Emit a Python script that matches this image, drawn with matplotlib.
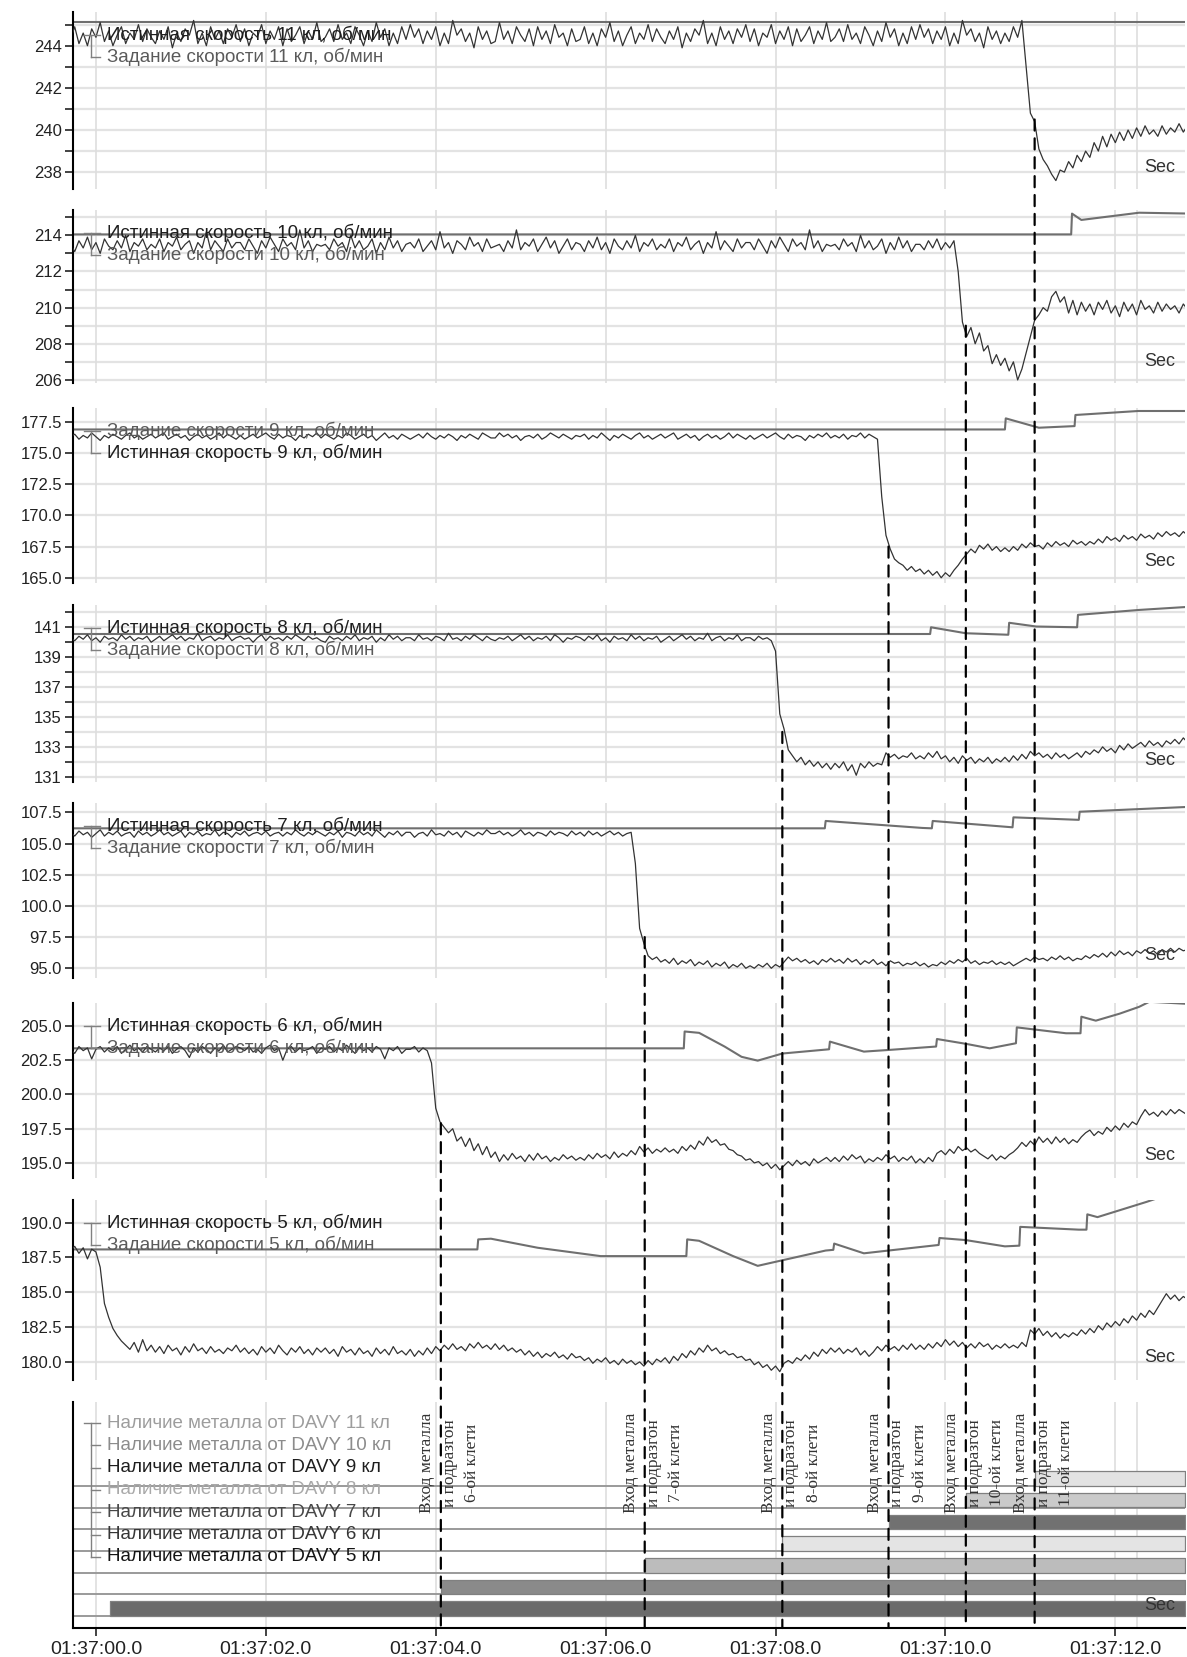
import numpy as np
import matplotlib.pyplot as plt
from matplotlib.patches import ConnectionPatch
from matplotlib.ticker import FormatStrFormatter

plt.rcParams['font.family'] = ['Liberation Sans', 'DejaVu Sans']

# sampling of the speed curves (seconds after 01:37:00.0), one row = 1 s
T0 = -0.3
DT = 0.05

# ---------------- stand 11 ----------------
speed_11 = [
    244.3, 244.9, 244.1, 244.6, 244.0, 244.8, 244.4, 245.1, 244.2, 244.7, 244.0, 244.5, 244.9, 244.1, 244.6, 244.3, 245.0, 244.2, 244.8, 244.4,
    244.1, 244.7, 244.3, 244.9, 243.9, 244.6, 244.2, 244.8, 244.5, 245.2, 244.1, 244.6, 244.0, 244.9, 244.3, 244.7, 244.1, 244.8, 244.4, 245.0,
    244.2, 244.8, 244.0, 244.6, 244.4, 245.0, 244.1, 244.7, 244.3, 244.9, 244.0, 244.8, 244.2, 244.5, 244.9, 244.1, 244.7, 244.3, 245.1, 244.2,
    244.4, 244.8, 244.2, 245.0, 244.3, 244.6, 244.1, 244.9, 244.5, 244.0, 244.7, 244.2, 245.1, 244.4, 244.8, 244.0, 244.6, 244.1, 244.9, 244.3,
    245.0, 244.4, 244.8, 244.1, 244.7, 244.3, 244.9, 244.0, 244.6, 244.1, 245.2, 244.5, 244.8, 244.2, 244.6, 243.9, 244.9, 244.3, 244.7, 244.1,
    244.2, 245.1, 244.3, 244.7, 244.1, 244.9, 244.5, 244.2, 244.8, 244.0, 244.9, 244.3, 244.7, 244.1, 245.0, 244.4, 244.6, 244.0, 244.8, 244.2,
    244.3, 244.9, 244.1, 244.6, 244.0, 244.8, 244.4, 245.1, 244.2, 244.7, 244.0, 244.5, 244.9, 244.1, 244.6, 244.3, 245.0, 244.2, 244.8, 244.4,
    244.1, 244.7, 244.3, 244.9, 243.9, 244.6, 244.2, 244.8, 244.5, 245.2, 244.1, 244.6, 244.0, 244.9, 244.3, 244.7, 244.1, 244.8, 244.4, 245.0,
    244.2, 244.8, 244.0, 244.6, 244.4, 245.0, 244.1, 244.7, 244.3, 244.9, 244.0, 244.8, 244.2, 244.5, 244.9, 244.1, 244.7, 244.3, 245.1, 244.2,
    244.4, 244.8, 244.2, 245.0, 244.3, 244.6, 244.1, 244.9, 244.5, 244.0, 244.7, 244.2, 245.1, 244.4, 244.8, 244.0, 244.6, 244.1, 244.9, 244.3,
    245.0, 244.4, 244.8, 244.1, 244.7, 244.3, 244.9, 244.0, 244.6, 244.1, 245.2, 244.5, 244.8, 244.2, 244.6, 243.9, 244.9, 244.3, 244.7, 244.1,
    244.6, 244.2, 244.9, 244.4, 245.2, 243.0, 240.8, 240.4, 239.1, 238.6, 238.3, 237.9, 237.6, 238.1, 238.0, 238.5, 238.2, 238.8, 238.5, 239.0,
    238.7, 239.4, 239.0, 239.7, 239.2, 239.8, 239.4, 239.9, 239.5, 240.0, 239.6, 240.1, 239.7, 240.2, 239.8, 240.0, 239.7, 240.2, 239.8, 240.1,
    239.9, 240.3, 239.9, 240.2, 240.0,
]
set_11_t = [-0.3, 12.9]
set_11_v = [245.13, 245.13]

# ---------------- stand 10 ----------------
speed_10 = [
    213.5, 213.1, 213.7, 213.3, 213.9, 213.2, 213.6, 213.0, 213.8, 213.4, 213.2, 213.7, 213.3, 214.0, 213.1, 213.6, 213.4, 213.8, 213.2, 213.5,
    213.3, 213.8, 213.1, 213.6, 213.4, 213.9, 213.2, 213.5, 213.7, 213.0, 213.6, 213.3, 214.2, 213.2, 213.7, 213.4, 213.1, 213.8, 213.3, 213.6,
    213.6, 213.2, 213.8, 213.4, 213.0, 213.7, 213.3, 213.9, 213.5, 213.1, 213.8, 213.4, 213.6, 213.2, 214.3, 213.3, 213.7, 213.1, 213.5, 213.4,
    213.5, 213.2, 213.8, 213.4, 213.6, 213.1, 214.0, 213.3, 213.7, 213.2, 213.4, 213.8, 213.0, 213.6, 213.2, 213.9, 213.3, 213.7, 213.1, 213.5,
    213.6, 213.3, 213.8, 213.1, 213.4, 213.7, 213.2, 214.2, 213.3, 213.6, 213.0, 213.7, 213.5, 213.2, 213.9, 213.4, 213.6, 213.1, 213.8, 213.3,
    213.4, 213.5, 213.1, 213.7, 213.3, 214.3, 213.2, 213.6, 213.4, 213.8, 213.1, 213.5, 213.9, 213.3, 213.7, 213.0, 213.4, 213.8, 213.2, 213.6,
    213.5, 213.1, 213.7, 213.3, 213.9, 213.2, 213.6, 213.0, 213.8, 213.4, 213.2, 213.7, 213.3, 214.0, 213.1, 213.6, 213.4, 213.8, 213.2, 213.5,
    213.3, 213.8, 213.1, 213.6, 213.4, 213.9, 213.2, 213.5, 213.7, 213.0, 213.6, 213.3, 214.2, 213.2, 213.7, 213.4, 213.1, 213.8, 213.3, 213.6,
    213.6, 213.2, 213.8, 213.4, 213.0, 213.7, 213.3, 213.9, 213.5, 213.1, 213.8, 213.4, 213.6, 213.2, 214.3, 213.3, 213.7, 213.1, 213.5, 213.4,
    213.5, 213.2, 213.8, 213.4, 213.6, 213.1, 214.0, 213.3, 213.7, 213.2, 213.4, 213.8, 213.0, 213.6, 213.2, 213.9, 213.3, 213.7, 213.1, 213.5,
    213.5, 213.2, 213.7, 213.3, 213.8, 213.2, 213.6, 213.3, 213.7, 212.0, 209.2, 208.4, 208.9, 208.0, 208.6, 207.6, 207.9, 206.9, 207.4, 206.8,
    207.2, 206.5, 207.0, 206.0, 206.6, 207.5, 208.4, 209.3, 209.6, 210.0, 209.8, 210.6, 210.9, 210.3, 210.6, 209.7, 210.4, 209.6, 210.3, 209.8,
    210.2, 209.6, 210.3, 209.9, 210.4, 209.7, 210.1, 209.5, 210.3, 209.8, 210.2, 209.6, 210.4, 209.9, 210.1, 209.7, 210.3, 209.8, 210.2, 209.9,
    210.1, 209.7, 210.2, 209.9, 210.0,
]
set_10_t = [-0.3, 11.48, 11.49, 11.6, 12.28, 12.9]
set_10_v = [214.05, 214.05, 215.2, 214.85, 215.25, 215.2]

# ---------------- stand 9 ----------------
speed_9 = [
    176.3, 176.5, 176.1, 176.4, 176.2, 176.6, 176.3, 176.0, 176.4, 176.2, 176.5, 176.3, 176.1, 176.4, 176.6, 176.2, 176.4, 176.1, 176.3, 176.5,
    176.2, 176.4, 176.6, 176.1, 176.3, 176.5, 176.2, 176.4, 176.0, 176.3, 176.5, 176.2, 176.4, 176.1, 176.3, 176.6, 176.2, 176.5, 176.3, 176.1,
    176.4, 176.1, 176.3, 176.5, 176.2, 176.4, 176.6, 176.3, 176.1, 176.5, 176.2, 176.4, 176.3, 176.0, 176.4, 176.2, 176.5, 176.3, 176.6, 176.2,
    176.5, 176.3, 176.1, 176.4, 176.2, 176.6, 176.4, 176.1, 176.3, 176.5, 176.2, 176.4, 176.0, 176.3, 176.6, 176.2, 176.4, 176.1, 176.5, 176.3,
    176.1, 176.3, 176.5, 176.2, 176.6, 176.3, 176.1, 176.4, 176.2, 176.5, 176.3, 176.0, 176.4, 176.2, 176.5, 176.3, 176.1, 176.6, 176.4, 176.2,
    176.2, 176.6, 176.3, 176.5, 176.2, 176.4, 176.0, 176.3, 176.4, 176.2, 176.5, 176.1, 176.3, 176.6, 176.4, 176.2, 176.5, 176.3, 176.1, 176.4,
    176.3, 176.5, 176.1, 176.4, 176.2, 176.6, 176.3, 176.0, 176.4, 176.2, 176.5, 176.3, 176.1, 176.4, 176.6, 176.2, 176.4, 176.1, 176.3, 176.5,
    176.2, 176.4, 176.6, 176.1, 176.3, 176.5, 176.2, 176.4, 176.0, 176.3, 176.5, 176.2, 176.4, 176.1, 176.3, 176.6, 176.2, 176.5, 176.3, 176.1,
    176.4, 176.1, 176.3, 176.5, 176.2, 176.4, 176.6, 176.3, 176.1, 176.5, 176.2, 176.4, 176.3, 176.0, 176.4, 176.2, 176.5, 176.3, 176.6, 176.2,
    176.4, 176.2, 176.5, 176.1, 176.4, 176.3, 176.6, 176.2, 176.5, 176.3, 176.1, 171.5, 168.4, 167.3, 166.5, 166.2, 166.0, 165.6, 165.9, 165.5,
    165.7, 165.3, 165.6, 165.2, 165.5, 165.0, 165.4, 165.1, 165.6, 166.0, 166.5, 166.9, 167.3, 167.0, 167.6, 167.3, 167.7, 167.2, 167.5, 167.1,
    167.4, 167.1, 167.5, 167.2, 167.7, 167.4, 167.8, 167.5, 167.6, 167.3, 167.8, 167.5, 167.9, 167.6, 167.8, 167.5, 168.0, 167.7, 167.9, 167.6,
    167.9, 167.7, 168.1, 167.8, 168.3, 168.0, 168.2, 167.9, 168.4, 168.1, 168.3, 168.0, 168.5, 168.2, 168.4, 168.1, 168.6, 168.3, 168.7, 168.4,
    168.6, 168.3, 168.7, 168.4, 168.6,
]
set_9_t = [-0.3, 10.7, 10.71, 11.1, 11.52, 11.53, 12.27, 12.9]
set_9_v = [176.88, 176.88, 177.77, 177.02, 177.15, 178.04, 178.36, 178.36]

# ---------------- stand 8 ----------------
speed_8 = [
    140.3, 140.1, 140.4, 140.2, 140.5, 140.1, 140.3, 140.0, 140.4, 140.2, 140.3, 140.1, 140.5, 140.2, 140.4, 140.1, 140.3, 140.2, 140.4, 140.0,
    140.2, 140.4, 140.1, 140.3, 140.5, 140.2, 140.4, 140.1, 140.3, 140.2, 140.6, 140.1, 140.3, 140.4, 140.1, 140.3, 140.2, 140.5, 140.1, 140.3,
    140.4, 140.2, 140.3, 140.0, 140.3, 140.5, 140.1, 140.4, 140.2, 140.3, 140.1, 140.4, 140.2, 140.5, 140.3, 140.1, 140.4, 140.2, 140.3, 140.1,
    140.0, 140.4, 140.2, 140.3, 140.1, 140.4, 140.2, 140.5, 140.1, 140.3, 140.2, 140.4, 140.0, 140.3, 140.1, 140.5, 140.2, 140.4, 140.1, 140.3,
    140.3, 140.1, 140.5, 140.2, 140.3, 140.1, 140.4, 140.3, 140.1, 140.6, 140.2, 140.3, 140.1, 140.4, 140.2, 140.5, 140.3, 140.1, 140.4, 140.2,
    140.1, 140.3, 140.2, 140.4, 140.1, 140.3, 140.5, 140.2, 140.4, 140.1, 140.3, 140.2, 140.4, 140.1, 140.5, 140.3, 140.0, 140.3, 140.2, 140.4,
    140.3, 140.1, 140.4, 140.2, 140.5, 140.1, 140.3, 140.0, 140.4, 140.2, 140.3, 140.1, 140.5, 140.2, 140.4, 140.1, 140.3, 140.2, 140.4, 140.0,
    140.2, 140.4, 140.1, 140.3, 140.5, 140.2, 140.4, 140.1, 140.3, 140.2, 140.6, 140.1, 140.3, 140.4, 140.1, 140.3, 140.2, 140.5, 140.1, 140.3,
    140.3, 140.1, 140.4, 140.2, 140.3, 140.1, 139.4, 135.2, 134.2, 132.8, 132.4, 132.0, 132.3, 131.8, 132.1, 131.7, 132.0, 131.6, 131.9, 131.5,
    131.9, 131.6, 132.0, 131.4, 131.8, 131.1, 131.9, 131.6, 132.0, 131.7, 131.9, 131.8, 132.6, 132.3, 132.5, 132.2, 132.4, 132.3, 132.6, 132.2,
    132.4, 132.2, 132.6, 132.3, 132.7, 132.2, 132.4, 132.0, 132.3, 131.9, 132.4, 132.1, 132.3, 131.9, 132.2, 132.0, 132.3, 131.9, 132.2, 132.0,
    132.3, 132.0, 132.4, 132.1, 132.5, 132.2, 132.7, 132.4, 132.6, 132.3, 132.5, 132.2, 132.6, 132.3, 132.5, 132.2, 132.4, 132.6, 132.3, 132.7,
    132.5, 132.8, 132.6, 133.0, 132.7, 132.9, 132.6, 133.1, 132.8, 133.2, 132.9, 133.1, 133.3, 133.0, 133.4, 133.1, 133.3, 133.0, 133.4, 133.2,
    133.5, 133.2, 133.6, 133.3, 133.5,
]
set_8_t = [-0.3, 9.82, 9.83, 10.24, 10.74, 10.75, 11.07, 11.55, 11.56, 12.28, 12.9]
set_8_v = [140.55, 140.55, 141.0, 140.6, 140.5, 141.3, 141.05, 141.0, 141.83, 142.16, 142.38]

# ---------------- stand 7 ----------------
speed_7 = [
    105.9, 105.6, 106.0, 105.7, 105.9, 105.5, 105.8, 106.1, 105.6, 105.9, 105.7, 106.0, 105.6, 105.8, 105.9, 105.5, 106.0, 105.7, 105.9, 105.6,
    105.8, 106.1, 105.7, 105.9, 105.6, 105.8, 106.0, 105.5, 105.9, 105.7, 106.0, 105.6, 105.8, 105.7, 106.1, 105.6, 105.9, 105.8, 105.5, 105.9,
    105.7, 106.0, 105.6, 105.8, 105.9, 105.7, 106.0, 105.6, 105.8, 105.9, 105.6, 105.9, 105.7, 106.1, 105.8, 105.6, 105.9, 105.7, 106.0, 105.8,
    105.6, 105.9, 105.7, 106.0, 105.5, 105.9, 105.8, 105.6, 106.0, 105.7, 105.9, 105.6, 106.1, 105.8, 105.5, 105.9, 105.7, 106.0, 105.6, 105.9,
    105.9, 105.5, 105.8, 105.9, 105.6, 106.1, 105.7, 105.8, 105.6, 106.0, 105.7, 105.9, 105.5, 106.0, 105.8, 105.6, 105.9, 105.7, 106.1, 105.8,
    105.8, 106.0, 105.7, 105.9, 105.6, 105.8, 106.1, 105.7, 105.9, 105.6, 105.9, 105.8, 105.6, 106.0, 105.7, 105.9, 105.8, 105.6, 106.0, 105.7,
    105.9, 105.6, 106.0, 105.7, 105.9, 105.6, 105.8, 106.0, 105.7, 105.9, 105.6, 105.8, 105.9, 103.4, 98.2, 97.0, 96.0, 95.7, 95.9, 95.5,
    95.7, 95.4, 95.8, 95.3, 95.6, 95.4, 95.7, 95.2, 95.5, 95.3, 95.6, 95.1, 95.4, 95.2, 95.5, 95.0, 95.3, 95.1, 95.4, 95.0,
    95.2, 95.0, 95.3, 95.1, 95.4, 95.0, 95.3, 95.1, 95.5, 95.9, 95.6, 95.8, 95.5, 95.7, 95.4, 95.6, 95.3, 95.7, 95.5, 95.8,
    95.5, 95.7, 95.4, 95.8, 95.5, 95.7, 95.3, 95.6, 95.4, 95.7, 95.3, 95.5, 95.2, 95.6, 95.4, 95.5, 95.2, 95.4, 95.3, 95.5,
    95.2, 95.4, 95.1, 95.3, 95.2, 95.5, 95.3, 95.6, 95.4, 95.7, 95.5, 95.8, 95.4, 95.6, 95.3, 95.5, 95.4, 95.6, 95.3, 95.5,
    95.3, 95.5, 95.2, 95.4, 95.6, 95.8, 95.6, 95.9, 95.7, 95.8, 95.6, 95.9, 95.7, 96.0, 95.7, 95.9, 95.6, 95.8, 95.7, 96.0,
    95.8, 96.1, 95.9, 96.2, 95.9, 96.3, 96.0, 96.4, 96.1, 96.3, 96.0, 96.4, 96.2, 96.5, 96.2, 96.4, 96.1, 96.5, 96.3, 96.6,
    96.3, 96.6, 96.4, 96.5, 96.3,
]
set_7_t = [-0.3, 8.58, 8.59, 9.73, 9.84, 9.85, 10.7, 10.79, 10.8, 11.57, 11.58, 12.9]
set_7_v = [106.22, 106.22, 106.81, 106.25, 106.22, 106.81, 106.35, 106.3, 107.1, 106.9, 107.55, 107.95]

# ---------------- stand 6 ----------------
speed_6 = [
    203.3, 203.0, 203.5, 203.2, 203.4, 202.6, 203.3, 203.5, 203.1, 203.4, 203.2, 203.5, 203.0, 203.3, 203.6, 203.2, 203.4, 203.1, 203.5, 203.3,
    203.1, 203.4, 203.2, 203.5, 203.0, 203.3, 203.5, 203.2, 202.7, 203.4, 203.1, 203.5, 203.3, 203.0, 203.4, 203.2, 203.6, 203.1, 203.3, 203.5,
    203.4, 203.2, 203.5, 203.1, 203.3, 203.0, 203.4, 203.6, 203.2, 203.4, 202.5, 203.3, 203.5, 203.1, 203.4, 203.2, 203.3, 203.5, 203.0, 203.4,
    203.3, 203.5, 203.1, 203.4, 203.2, 203.6, 203.3, 203.0, 203.5, 203.2, 203.4, 203.1, 203.5, 203.3, 202.6, 203.4, 203.2, 203.5, 203.0, 203.3,
    203.3, 203.5, 203.1, 203.4, 203.2, 202.3, 199.0, 198.0, 197.6, 197.2, 197.5, 196.6, 196.9, 196.2, 196.8, 195.9, 196.4, 195.6, 196.2, 195.4,
    195.8, 195.1, 195.6, 195.2, 195.7, 195.3, 195.5, 195.1, 195.6, 195.2, 195.7, 195.3, 195.5, 195.1, 195.4, 195.2, 195.6, 195.3, 195.5, 195.2,
    195.4, 195.2, 195.6, 195.3, 195.7, 195.4, 195.6, 195.3, 195.8, 195.4, 195.7, 195.5, 195.9, 195.6, 196.2, 195.8, 196.1, 195.7, 196.0, 195.8,
    196.1, 195.8, 196.0, 195.7, 196.2, 195.9, 196.3, 196.0, 196.6, 196.3, 196.9, 196.5, 196.7, 196.3, 196.4, 196.0, 195.9, 195.6, 195.5, 195.2,
    195.3, 195.0, 195.1, 194.8, 195.0, 194.6, 194.9, 194.5, 194.8, 195.1, 194.8, 195.2, 194.9, 195.1, 194.8, 195.3, 195.0, 195.2, 195.4, 195.1,
    195.4, 195.1, 195.5, 195.2, 195.6, 195.3, 195.5, 195.0, 195.3, 195.1, 195.4, 195.2, 195.6, 195.3, 195.5, 195.1, 195.4, 195.2, 195.5, 195.0,
    195.3, 195.0, 195.4, 195.1, 195.7, 195.9, 195.6, 196.0, 195.7, 196.2, 195.9, 196.1, 195.8, 196.0, 195.7, 195.5, 195.3, 195.6, 195.2, 195.5,
    195.3, 195.6, 195.8, 196.1, 196.5, 196.2, 196.6, 196.3, 196.9, 196.5, 196.8, 196.4, 196.9, 196.5, 196.8, 196.4, 196.7, 196.5, 196.9, 197.2,
    197.4, 197.0, 197.3, 197.1, 197.6, 197.3, 197.7, 197.4, 197.9, 197.6, 198.0, 197.8, 198.4, 198.9, 198.5, 198.7, 198.4, 198.8, 198.5, 198.9,
    198.6, 198.9, 198.7, 198.5, 198.8,
]
set_6_t = [-0.3, 6.92, 6.93, 7.1, 7.4, 7.6, 7.79, 8.08, 8.63, 8.64, 9.04, 9.33, 9.89, 9.9,
           10.24, 10.52, 10.83, 10.84, 11.42, 11.59, 11.6, 11.77, 12.05, 12.28, 12.4, 12.9]
set_6_v = [203.37, 203.37, 204.6, 204.5, 203.5, 202.75, 202.47, 202.99, 203.3, 203.86, 203.13, 203.25, 203.5, 204.05,
           203.7, 203.37, 203.74, 204.9, 204.47, 204.47, 205.68, 205.39, 205.9, 206.4, 206.77, 206.6]

# ---------------- stand 5 ----------------
speed_5 = [
    188.0, 188.3, 187.8, 188.2, 187.4, 188.1, 187.9, 186.8, 184.2, 183.2, 182.4, 181.9, 181.5, 181.2, 180.9, 181.4, 180.7, 181.6, 180.8, 181.2,
    180.7, 181.1, 180.6, 181.2, 180.8, 181.0, 180.5, 181.1, 180.7, 181.3, 180.8, 181.0, 180.6, 181.1, 180.7, 180.9, 180.6, 181.0, 180.8, 181.2,
    180.7, 181.0, 180.6, 180.9, 180.5, 181.1, 180.7, 181.0, 180.6, 181.2, 180.8, 180.5, 181.0, 180.7, 181.1, 180.6, 180.9, 180.5, 181.0, 180.7,
    181.0, 180.6, 180.9, 180.4, 181.1, 180.7, 180.9, 180.5, 181.0, 180.6, 180.8, 180.4, 181.0, 180.6, 180.9, 180.5, 181.1, 180.6, 180.8, 180.5,
    180.9, 180.4, 180.8, 180.5, 181.0, 180.6, 181.1, 180.8, 181.2, 180.9, 181.3, 180.9, 181.1, 180.8, 181.3, 181.0, 181.4, 181.0, 181.2, 180.9,
    181.3, 180.9, 181.2, 180.8, 181.0, 180.7, 180.9, 180.5, 180.8, 180.4, 180.7, 180.3, 180.6, 180.4, 180.7, 180.3, 180.5, 180.2, 180.6, 180.3,
    180.4, 180.1, 180.3, 179.9, 180.2, 180.0, 180.3, 179.9, 180.1, 179.8, 180.2, 179.9, 180.1, 179.8, 180.0, 179.7, 180.1, 179.8, 180.2, 180.0,
    180.3, 179.9, 180.4, 180.1, 180.6, 180.3, 180.8, 180.5, 181.0, 180.7, 181.2, 180.8, 181.0, 180.6, 180.8, 180.5, 180.6, 180.3, 180.4, 180.1,
    180.2, 179.8, 180.0, 179.6, 179.8, 179.4, 179.7, 179.3, 179.9, 180.1, 179.9, 180.3, 180.1, 180.5, 180.2, 180.7, 180.4, 180.9, 180.6, 181.0,
    180.7, 181.0, 180.6, 180.9, 180.7, 181.0, 180.5, 180.8, 180.4, 180.7, 181.1, 180.8, 181.2, 180.9, 181.1, 180.8, 181.2, 180.9, 181.3, 180.9,
    181.2, 180.9, 181.3, 181.0, 181.4, 181.1, 181.6, 181.2, 181.5, 181.1, 181.4, 181.0, 181.3, 181.0, 181.4, 181.1, 181.3, 180.9, 181.2, 181.0,
    181.3, 181.0, 181.2, 181.0, 181.4, 181.1, 182.3, 182.0, 182.4, 181.9, 182.2, 181.8, 182.1, 181.7, 182.0, 181.8, 182.1, 181.9, 182.3, 182.0,
    182.4, 182.1, 182.6, 182.3, 182.8, 182.5, 182.9, 182.6, 183.1, 182.8, 183.3, 183.0, 183.5, 183.2, 183.7, 183.4, 183.9, 184.4, 184.9, 184.5,
    184.8, 184.4, 184.7, 184.5, 184.6,
]
set_5_t = [-0.3, 4.49, 4.5, 4.65, 5.2, 5.94, 6.95, 6.96, 7.1, 7.5, 7.79, 8.08, 8.59, 8.68, 8.69,
           9.04, 9.33, 9.92, 9.93, 10.24, 10.7, 10.87, 10.88, 11.57, 11.66, 11.67, 11.79, 12.37, 12.9]
set_5_v = [188.08, 188.08, 188.8, 188.85, 188.2, 187.6, 187.6, 188.8, 188.7, 187.6, 186.9, 187.3, 188.0, 188.05, 188.5,
           187.8, 188.0, 188.4, 188.9, 188.75, 188.3, 188.35, 189.7, 189.5, 189.5, 190.6, 190.4, 191.5, 192.6]

# legends of the speed panels, top to bottom
legend_11 = ['Истинная скорость 11 кл, об/мин', 'Задание скорости 11 кл, об/мин']
legend_10 = ['Истинная скорость 10 кл, об/мин', 'Задание скорости 10 кл, об/мин']
legend_9 = ['Задание скорости 9 кл, об/мин', 'Истинная скорость 9 кл, об/мин']
legend_8 = ['Истинная скорость 8 кл, об/мин', 'Задание скорости 8 кл, об/мин']
legend_7 = ['Истинная скорость 7 кл, об/мин', 'Задание скорости 7 кл, об/мин']
legend_6 = ['Истинная скорость 6 кл, об/мин', 'Задание скорости 6 кл, об/мин']
legend_5 = ['Истинная скорость 5 кл, об/мин', 'Задание скорости 5 кл, об/мин']

# metal presence (DAVY) signals: stands 5..11 and the moment metal appears
metal_stands = ['5', '6', '7', '8', '9', '10', '11']
metal_on = [0.17, 4.06, 6.46, 8.08, 9.33, 10.24, 11.05]
metal_fill = ['#6b6b6b', '#8a8a8a', '#bcbcbc', '#e4e4e4', '#717171', '#cacaca', '#e2e2e2']
metal_text = ['#141414', '#363636', '#484848', '#a9a9a9', '#1e1e1e', '#8c8c8c', '#9d9d9d']

# entry of metal into stands 6..11 (dashed markers) and speed value where marker starts
entry_stands = ['6', '7', '8', '9', '10', '11']
entry_times = [4.06, 6.46, 8.08, 9.33, 10.24, 11.05]
entry_speed = [197.9, 97.5, 134.0, 167.5, 209.0, 240.5]

xtick_pos = [0, 2, 4, 6, 8, 10, 12]
xtick_labels = ['01:37:00.0', '01:37:02.0', '01:37:04.0', '01:37:06.0',
                '01:37:08.0', '01:37:10.0', '01:37:12.0']
vgrid_times = [0, 2, 4, 6, 8, 10, 12, 12.26]
XLIM = (-0.27, 12.82)

panels = [
    dict(speed=speed_11, st=set_11_t, sv=set_11_v, legend=legend_11, ylim=(237.2, 245.6),
         major=[238, 240, 242, 244], minor=[239, 241, 243, 245], fmt='%d', px=(12, 189)),
    dict(speed=speed_10, st=set_10_t, sv=set_10_v, legend=legend_10, ylim=(205.83, 215.4),
         major=[206, 208, 210, 212, 214], minor=[207, 209, 211, 213, 215], fmt='%d', px=(210, 383)),
    dict(speed=speed_9, st=set_9_t, sv=set_9_v, legend=legend_9, ylim=(164.58, 178.6),
         major=[165, 167.5, 170, 172.5, 175, 177.5], minor=[], fmt='%.1f', px=(408, 583)),
    dict(speed=speed_8, st=set_8_t, sv=set_8_v, legend=legend_8, ylim=(130.65, 142.49),
         major=[131, 133, 135, 137, 139, 141], minor=[132, 134, 136, 138, 140, 142], fmt='%d', px=(605, 782)),
    dict(speed=speed_7, st=set_7_t, sv=set_7_v, legend=legend_7, ylim=(94.22, 108.25),
         major=[95, 97.5, 100, 102.5, 105, 107.5], minor=[], fmt='%.1f', px=(803, 978)),
    dict(speed=speed_6, st=set_6_t, sv=set_6_v, legend=legend_6, ylim=(193.9, 206.68),
         major=[195, 197.5, 200, 202.5, 205], minor=[], fmt='%.1f', px=(1003, 1178)),
    dict(speed=speed_5, st=set_5_t, sv=set_5_v, legend=legend_5, ylim=(178.7, 191.63),
         major=[180, 182.5, 185, 187.5, 190], minor=[], fmt='%.1f', px=(1200, 1380)),
]

W, H = 1187, 1657
AX_L, AX_R = 73, 1185
AX_W = AX_R - AX_L
fig = plt.figure(figsize=(W / 100, H / 100), dpi=100)


def add_ax(top, bot):
    return fig.add_axes([AX_L / W, 1 - bot / H, AX_W / W, (bot - top) / H])


def tree_legend(ax, h_px, labels, colors, y0, step, size):
    fx = lambda p: p / AX_W
    fy = lambda p: 1 - p / h_px
    ys = [y0 + step * i for i in range(len(labels))]
    kw = dict(transform=ax.transAxes, color='#808080', lw=1, clip_on=False, zorder=6)
    ax.plot([fx(11), fx(27)], [fy(ys[0])] * 2, **kw)
    ax.plot([fx(18), fx(18)], [fy(ys[0]), fy(ys[-1])], **kw)
    for y in ys[1:]:
        ax.plot([fx(18), fx(27)], [fy(y)] * 2, **kw)
    for y, lab, c in zip(ys, labels, colors):
        ax.text(fx(34), fy(y), lab, transform=ax.transAxes, ha='left', va='center',
                fontsize=size, color=c, zorder=6)


def sec_label(ax):
    ax.annotate('Sec', xy=(1, 0), xycoords='axes fraction', xytext=(-10, 22),
                textcoords='offset pixels', ha='right', va='center', fontsize=13,
                color='#333333', zorder=6)


axes = []
for p in panels:
    top, bot = p['px']
    ax = add_ax(top, bot)
    t = T0 + DT * np.arange(len(p['speed']))
    for g in p['major'] + p['minor']:
        ax.axhline(g, color='#e3e3e3', lw=1.6, zorder=0)
    for g in vgrid_times:
        ax.axvline(g, color='#dedede', lw=1.2, zorder=0)
    ax.plot(p['st'], p['sv'], color='#6f6f6f', lw=1.5, zorder=2)
    ax.plot(t, p['speed'], color='#333333', lw=0.9, zorder=3)
    ax.set_xlim(*XLIM)
    ax.set_ylim(*p['ylim'])
    ax.set_yticks(p['major'])
    ax.set_yticks(p['minor'], minor=True)
    ax.yaxis.set_major_formatter(FormatStrFormatter(p['fmt']))
    ax.tick_params(axis='y', which='both', direction='out', length=6, width=1.2,
                   labelsize=12, pad=2, colors='#222222')
    ax.tick_params(axis='x', which='both', bottom=False, labelbottom=False)
    for s in ['top', 'right', 'bottom']:
        ax.spines[s].set_visible(False)
    ax.spines['left'].set_linewidth(1.5)
    ax.set_facecolor('none')
    cols = ['#1e1e1e' if lab.startswith('Истинная') else '#5a5a5a' for lab in p['legend']]
    tree_legend(ax, bot - top, p['legend'], cols, 23, 22, 13.5)
    sec_label(ax)
    axes.append(ax)

# ---------------- metal presence panel ----------------
btop, bbot = 1402, 1628
axb = add_ax(btop, bbot)
axb.set_xlim(*XLIM)
axb.set_ylim(0, bbot - btop)
for g in vgrid_times:
    axb.axvline(g, color='#dedede', lw=1.2, zorder=0)
for k, (st, c) in enumerate(zip(metal_on, metal_fill)):
    base = 12 + 21.7 * k
    axb.plot(XLIM, [base, base], color='#9a9a9a', lw=1.4, zorder=1)
    axb.fill_between([st, XLIM[1]], base, base + 14.5, facecolor=c, edgecolor='#808080',
                     lw=0.9, zorder=2)

axb.set_xticks(xtick_pos)
axb.set_xticklabels(xtick_labels)
axb.set_yticks([])
axb.tick_params(axis='x', direction='out', length=6, width=1.2, labelsize=14, pad=3,
                colors='#222222')
for s in ['top', 'right']:
    axb.spines[s].set_visible(False)
axb.spines['left'].set_linewidth(1.5)
axb.spines['bottom'].set_linewidth(1.5)

davy_labels = [f'Наличие металла от DAVY {s} кл' for s in metal_stands[::-1]]
tree_legend(axb, bbot - btop, davy_labels, metal_text[::-1], 21, 22.3, 13.5)
sec_label(axb)

for t_e, s in zip(entry_times, entry_stands):
    axb.text(t_e + 0.105, 165, f'Вход металла\nи подразгон\n{s}-ой клети', rotation=90,
             ha='center', va='center', multialignment='center', fontsize=12.5,
             family=['Liberation Serif', 'DejaVu Serif'], linespacing=1.55,
             color='#333333', zorder=5)

# dashed markers from the speed drop down to the bottom panel
for t_e, v, ax in zip(entry_times, entry_speed, axes[5::-1]):
    cp = ConnectionPatch(xyA=(t_e, v), coordsA=ax.transData, xyB=(t_e, 0),
                         coordsB=axb.transData, color='black', lw=1.6,
                         linestyle=(0, (5, 3.5)), zorder=7)
    fig.add_artist(cp)

fig.savefig('out.png', dpi=100)
